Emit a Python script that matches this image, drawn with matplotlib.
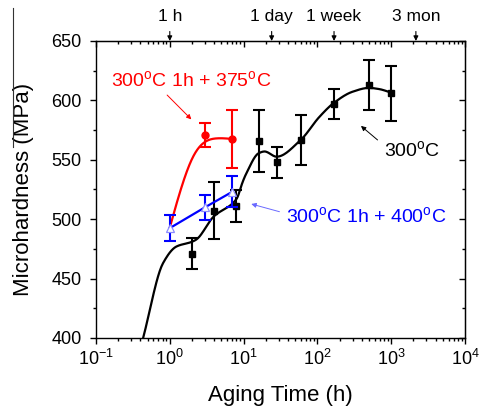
import numpy as np
import matplotlib
matplotlib.use("Agg")
import matplotlib.pyplot as plt
from matplotlib.ticker import LogLocator, MultipleLocator, FuncFormatter, NullFormatter
from matplotlib.lines import Line2D

plt.rcParams['font.family'] = ['Liberation Sans', 'DejaVu Sans']
plt.rcParams['mathtext.fontset'] = 'custom'
plt.rcParams['mathtext.rm'] = 'Liberation Sans'
plt.rcParams['mathtext.it'] = 'Liberation Sans:italic'
plt.rcParams['mathtext.bf'] = 'Liberation Sans:bold'

# --- measured hardness (aging at 300 C) ---
t_300 = [2, 4, 8, 16, 28, 60, 168, 500, 1000]
hv_300 = [471, 507, 511, 566, 548, 567, 597, 613, 606]
err_300 = [13, 24, 13.5, 26, 13, 21, 12.5, 21, 23]

# --- 300 C 1h pre-aged, then 375 C ---
t_375 = [3, 7]
hv_375 = [571, 567.5]
err_375 = [10, 24.5]

# --- 300 C 1h pre-aged, then 400 C ---
t_400 = [1, 3, 7]
hv_400 = [492.5, 510, 523]
err_400 = [11, 10.7, 13]

# --- smooth guide curves (control values) ---
fit_t_300 = [0.435, 0.81, 1.23, 2.0, 2.3, 3.9, 8, 9.8, 10.9, 16, 19.2, 28, 60, 106, 168, 300, 500, 689, 1000]
fit_hv_300 = [400, 463, 477, 481, 483, 502, 517, 532, 538.6, 555.5, 557, 552.6, 567, 586, 598, 607.3, 610.5, 609.5, 606.5]
fit_t_375 = [1, 2.07, 4.27, 7]
fit_hv_375 = [493, 552.6, 568, 567.5]

# top-axis landmarks (hours)
mark_t = [1, 24, 168, 2160]
mark_lbl = ['1 h', '1 day', '1 week', '3 mon']


def pchip(x, y, xn):
    x = np.asarray(x, float); y = np.asarray(y, float)
    h = np.diff(x); d = np.diff(y) / h
    m = np.zeros_like(y)
    m[0], m[-1] = d[0], d[-1]
    for k in range(1, len(x) - 1):
        if d[k - 1] * d[k] <= 0:
            m[k] = 0.0
        else:
            w1 = 2 * h[k] + h[k - 1]
            w2 = h[k] + 2 * h[k - 1]
            m[k] = (w1 + w2) / (w1 / d[k - 1] + w2 / d[k])
    idx = np.clip(np.searchsorted(x, xn) - 1, 0, len(x) - 2)
    hh = h[idx]; s = (xn - x[idx]) / hh
    h00 = 2 * s**3 - 3 * s**2 + 1
    h10 = s**3 - 2 * s**2 + s
    h01 = -2 * s**3 + 3 * s**2
    h11 = s**3 - s**2
    return h00 * y[idx] + h10 * hh * m[idx] + h01 * y[idx + 1] + h11 * hh * m[idx + 1]


def natural_spline(x, y, xn):
    x = np.asarray(x, float); y = np.asarray(y, float)
    n = len(x)
    h = np.diff(x)
    A = np.zeros((n, n)); b = np.zeros(n)
    A[0, 0] = A[-1, -1] = 1.0
    for i in range(1, n - 1):
        A[i, i - 1] = h[i - 1]
        A[i, i] = 2 * (h[i - 1] + h[i])
        A[i, i + 1] = h[i]
        b[i] = 6 * ((y[i + 1] - y[i]) / h[i] - (y[i] - y[i - 1]) / h[i - 1])
    M = np.linalg.solve(A, b)
    idx = np.clip(np.searchsorted(x, xn) - 1, 0, n - 2)
    x0, x1 = x[idx], x[idx + 1]; hh = h[idx]
    return (M[idx] * (x1 - xn) ** 3 / (6 * hh) + M[idx + 1] * (xn - x0) ** 3 / (6 * hh)
            + (y[idx] / hh - M[idx] * hh / 6) * (x1 - xn)
            + (y[idx + 1] / hh - M[idx + 1] * hh / 6) * (xn - x0))


def smooth(tx, hy, interp, n=300):
    lx = np.log10(tx)
    xs = np.linspace(lx[0], lx[-1], n)
    return 10 ** xs, interp(lx, hy, xs)


fig = plt.figure(figsize=(4.79, 4.09), dpi=100)
ax = fig.add_axes([0.2004, 0.1736, 0.7704, 0.7262])

BLUE = '#0000ff'
RED = '#ff0000'

# guide curves
cx, cy = smooth(fit_t_300, fit_hv_300, pchip)
ax.plot(cx, cy, color='k', lw=1.6, zorder=3)
rx, ry = smooth(fit_t_375, fit_hv_375, natural_spline)
ax.plot(rx, ry, color=RED, lw=1.6, zorder=3)

# data with error bars
ax.errorbar(t_300, hv_300, yerr=err_300, fmt='s', color='k', ms=4.2, lw=1.5,
            capsize=4.5, capthick=1.5, zorder=4)
ax.errorbar(t_375, hv_375, yerr=err_375, fmt='o', color=RED, ms=5, lw=1.5,
            capsize=4.5, capthick=1.5, zorder=4)
ax.plot(t_400, hv_400, '-', color=BLUE, lw=1.6, zorder=5)
ax.errorbar(t_400, hv_400, yerr=err_400, fmt='none', ecolor=BLUE, lw=1.5,
            capsize=4.5, capthick=1.5, zorder=5)
ax.plot(t_400, hv_400, '^', ms=6, mfc='white', mec='#8c8cff', mew=0.9, ls='none', zorder=6)

ax.set_xscale('log')
ax.set_xlim(0.1, 1e4)
ax.set_ylim(400, 650)

ax.xaxis.set_major_locator(LogLocator(base=10, numticks=10))
ax.xaxis.set_minor_locator(LogLocator(base=10, subs=np.arange(2, 10), numticks=10))
ax.xaxis.set_minor_formatter(NullFormatter())
ax.xaxis.set_major_formatter(FuncFormatter(lambda v, p: r'$\mathregular{10^{%d}}$' % int(round(np.log10(v)))))
ax.yaxis.set_major_locator(MultipleLocator(50))
ax.yaxis.set_minor_locator(MultipleLocator(25))

ax.tick_params(axis='both', which='major', direction='out', length=4.5, width=1.0, labelsize=13)
ax.tick_params(axis='both', which='minor', direction='out', length=2.5, width=1.0)
ax.tick_params(axis='x', which='major', pad=3)
ax.tick_params(axis='y', which='major', pad=6)
for sp in ax.spines.values():
    sp.set_linewidth(1.0)

# mirrored top / right ticks pointing inward
top = ax.secondary_xaxis('top')
top.xaxis.set_major_locator(LogLocator(base=10, numticks=10))
top.xaxis.set_minor_locator(LogLocator(base=10, subs=np.arange(2, 10), numticks=10))
top.xaxis.set_major_formatter(NullFormatter())
top.xaxis.set_minor_formatter(NullFormatter())
top.tick_params(which='major', direction='in', length=4.5, width=1.0)
top.tick_params(which='minor', direction='in', length=2.5, width=1.0)
right = ax.secondary_yaxis('right')
right.yaxis.set_major_locator(MultipleLocator(50))
right.yaxis.set_minor_locator(MultipleLocator(25))
right.yaxis.set_major_formatter(NullFormatter())
right.tick_params(which='major', direction='in', length=4.5, width=1.0)
right.tick_params(which='minor', direction='in', length=2.5, width=1.0)

ax.set_xlabel('Aging Time (h)', fontsize=16, labelpad=12)
ax.set_ylabel('Microhardness (MPa)', fontsize=16, labelpad=12)

# landmarks above the top axis
for t, lbl in zip(mark_t, mark_lbl):
    ax.annotate('', xy=(t, 1.0), xycoords=('data', 'axes fraction'),
                xytext=(t, 1.032), textcoords=('data', 'axes fraction'),
                arrowprops=dict(arrowstyle='-|>', color='k', lw=0.8,
                                mutation_scale=7, shrinkA=0, shrinkB=0))
    ax.text(t, 1.082, lbl, transform=ax.get_xaxis_transform(), ha='center',
            va='center', fontsize=12.5)


def pointer(tail, head, color):
    ax.annotate('', xy=head, xytext=tail,
                arrowprops=dict(arrowstyle='-|>', color=color, lw=0.7,
                                mutation_scale=7, shrinkA=0, shrinkB=0))


# series labels
deg = r'$^\mathregular{o}$'
ax.text(1.92, 617, '300' + deg + 'C 1h + 375' + deg + 'C', color=RED, fontsize=14,
        ha='center', va='center')
pointer((0.92, 604.5), (1.96, 584), RED)
ax.text(38.1, 502.7, '300' + deg + 'C 1h + 400' + deg + 'C', color=BLUE, fontsize=14,
        ha='left', va='center')
pointer((30.6, 506.3), (12.7, 512.8), '#6a6aff')
ax.text(1923, 558.2, '300' + deg + 'C', color='k', fontsize=14, ha='center', va='center')
pointer((653, 566.7), (389, 578.5), 'k')

# thin rule at the left margin
fig.add_artist(Line2D([12.7 / 479, 12.7 / 479], [1 - 8 / 409, 1 - 147 / 409],
                      transform=fig.transFigure, color='#333333', lw=0.8))

fig.savefig('out.png', dpi=100)
